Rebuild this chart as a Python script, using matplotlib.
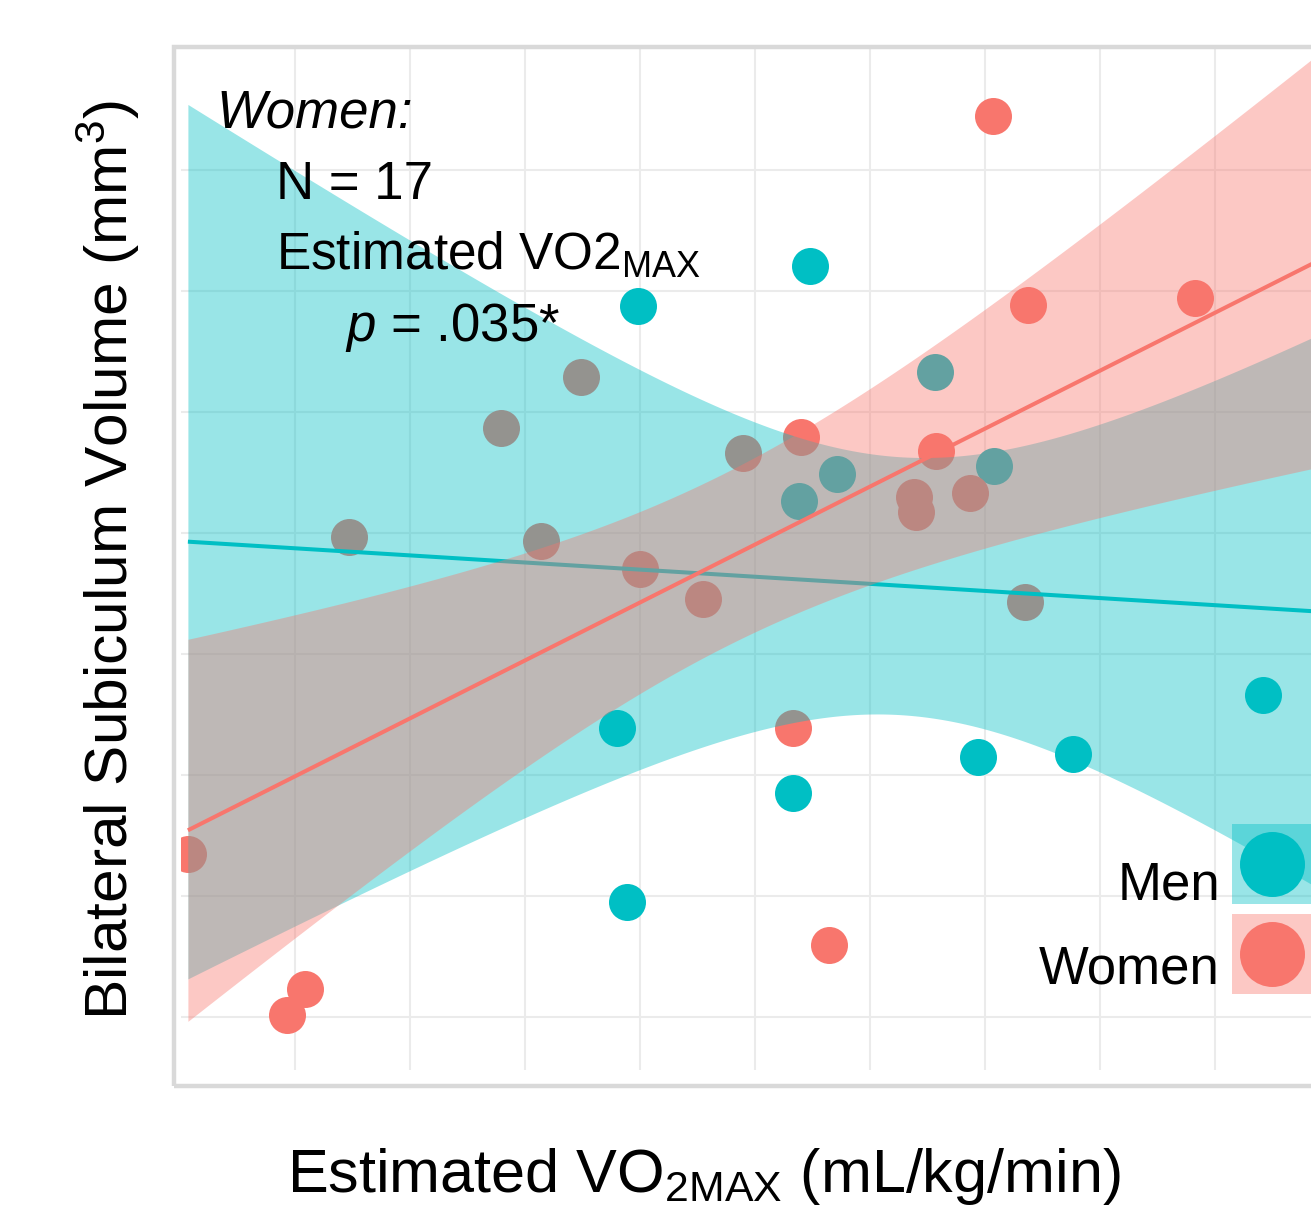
import numpy as np
import matplotlib
matplotlib.use("Agg")
import matplotlib.pyplot as plt
from matplotlib.patches import Rectangle
from matplotlib.lines import Line2D

plt.rcParams['font.family'] = ['Liberation Sans', 'DejaVu Sans']
plt.rcParams['mathtext.fontset'] = 'custom'
plt.rcParams['mathtext.rm'] = 'Liberation Sans'
plt.rcParams['mathtext.it'] = 'Liberation Sans:italic'

# estimated VO2max (mL/kg/min) and bilateral subiculum volume (mm3)
# last men point sits just right of the visible crop (implied by the band shape)
men_vo2 = [37.46, 41.20, 43.91, 41.78, 40.96, 45.20, 37.00, 40.83, 44.85, 46.91, 51.04, 37.22, 52.74]
men_vol = [1093.8, 1110.3, 1066.5, 1024.4, 1013.2, 1027.7, 919.4, 892.6, 907.4, 908.7, 933.1, 847.5, 971.9]

women_vo2 = [27.67, 29.83, 30.22, 31.17, 34.48, 35.35, 36.22, 37.50, 38.87, 39.74, 41.00,
             40.83, 41.61, 43.46, 43.50, 43.93, 44.67, 45.17, 45.87, 45.93, 49.57]
women_vol = [867.4, 800.8, 811.6, 998.3, 1043.4, 996.7, 1064.5, 985.1, 972.7, 1033.1, 1039.7,
             919.4, 829.8, 1014.9, 1008.7, 1033.9, 1016.5, 1172.3, 971.5, 1094.2, 1097.1]

groups = ['Men', 'Women']
colors = {'Men': '#00BFC4', 'Women': '#F8766D'}
T975 = {11: 2.201, 19: 2.093}  # t quantiles for 95% CI

W, H = 1311, 1207
fig = plt.figure(figsize=(W / 100, H / 100), dpi=100)


def fx(px):
    return px / W


def fy(py):
    return 1 - py / H


ax = fig.add_axes([fx(181), fy(1070), fx(1350) - fx(181), fy(46) - fy(1070)])
xmin, xmax = 27.52, 52.93
ax.set_xlim(xmin, xmax)
ax.set_ylim(778.1, 1201.2)


def lm_band(x, y, xs):
    x = np.asarray(x)
    y = np.asarray(y)
    n = len(x)
    b, a = np.polyfit(x, y, 1)
    s = np.sqrt(np.sum((y - (a + b * x)) ** 2) / (n - 2))
    sxx = np.sum((x - x.mean()) ** 2)
    fit = a + b * xs
    half = T975[n - 2] * s * np.sqrt(1 / n + (xs - x.mean()) ** 2 / sxx)
    return fit, fit - half, fit + half


data = {'Men': (men_vo2, men_vol), 'Women': (women_vo2, women_vol)}
xs = np.linspace(min(men_vo2 + women_vo2), xmax, 300)

for g in groups:
    ax.scatter(data[g][0], data[g][1], s=710, color=colors[g], linewidths=0, zorder=2)

z = 3
for g in groups:
    fit, lo, hi = lm_band(data[g][0], data[g][1], xs)
    ax.fill_between(xs, lo, hi, color=colors[g], alpha=0.4, linewidth=0, zorder=z)
    ax.plot(xs, fit, color=colors[g], lw=2.9, zorder=z + 0.5, solid_capstyle='butt')
    z += 1

ax.set_xticks([30, 35, 40, 45, 50])
ax.set_xticks([32.5, 37.5, 42.5, 47.5, 52.5], minor=True)
ax.set_yticks([800, 900, 1000, 1100])
ax.set_yticks([850, 950, 1050, 1150], minor=True)
ax.grid(True, which='both', color='#ebebeb', lw=1.5)
ax.set_axisbelow(True)
ax.tick_params(which='both', length=0, labelbottom=False, labelleft=False)
for sp in ax.spines.values():
    sp.set_visible(False)

# panel border
fig.add_artist(Rectangle((fx(173.5), fy(1086)), 1.2, fy(47) - fy(1086), fill=False,
                         ec='#d9d9d9', lw=3.2, transform=fig.transFigure))

# legend drawn inside the panel, keys = ribbon square + point
key_top = [824, 914]
label_base = [899, 983]
for g, kt, lb in zip(groups, key_top, label_base):
    fig.add_artist(Rectangle((fx(1232), fy(kt + 80)), fx(80), fy(kt) - fy(kt + 80),
                             fc=colors[g], alpha=0.4, lw=0, transform=fig.transFigure, zorder=6))
    fig.add_artist(Line2D([fx(1272)], [fy(kt + 40)], transform=fig.transFigure, ls='',
                          marker='o', ms=46.8, mfc=colors[g], mec='none', zorder=7))
    fig.text(fx(1220), fy(lb), g, fontsize=38, ha='right', va='baseline')

# annotation
fig.text(fx(216), fy(127), 'Women:', fontsize=38, style='italic', va='baseline')
fig.text(fx(276), fy(199), 'N = 17', fontsize=38, va='baseline')
fig.text(fx(276), fy(270), r'Estimated $\mathregular{VO2_{MAX}}$', fontsize=37, va='baseline')
fig.text(fx(345), fy(341), r'$p$ = .035*', fontsize=38, va='baseline')

# axis titles
fig.text(fx(704), fy(1192), r'Estimated $\mathregular{VO_{2MAX}}$ (mL/kg/min)', fontsize=44,
         ha='center', va='baseline')
fig.text(fx(108), fy(560), r'Bilateral Subiculum Volume (mm$^{3}$)', fontsize=43.5,
         rotation=90, ha='center', va='center')

fig.savefig('out.png', dpi=100)
